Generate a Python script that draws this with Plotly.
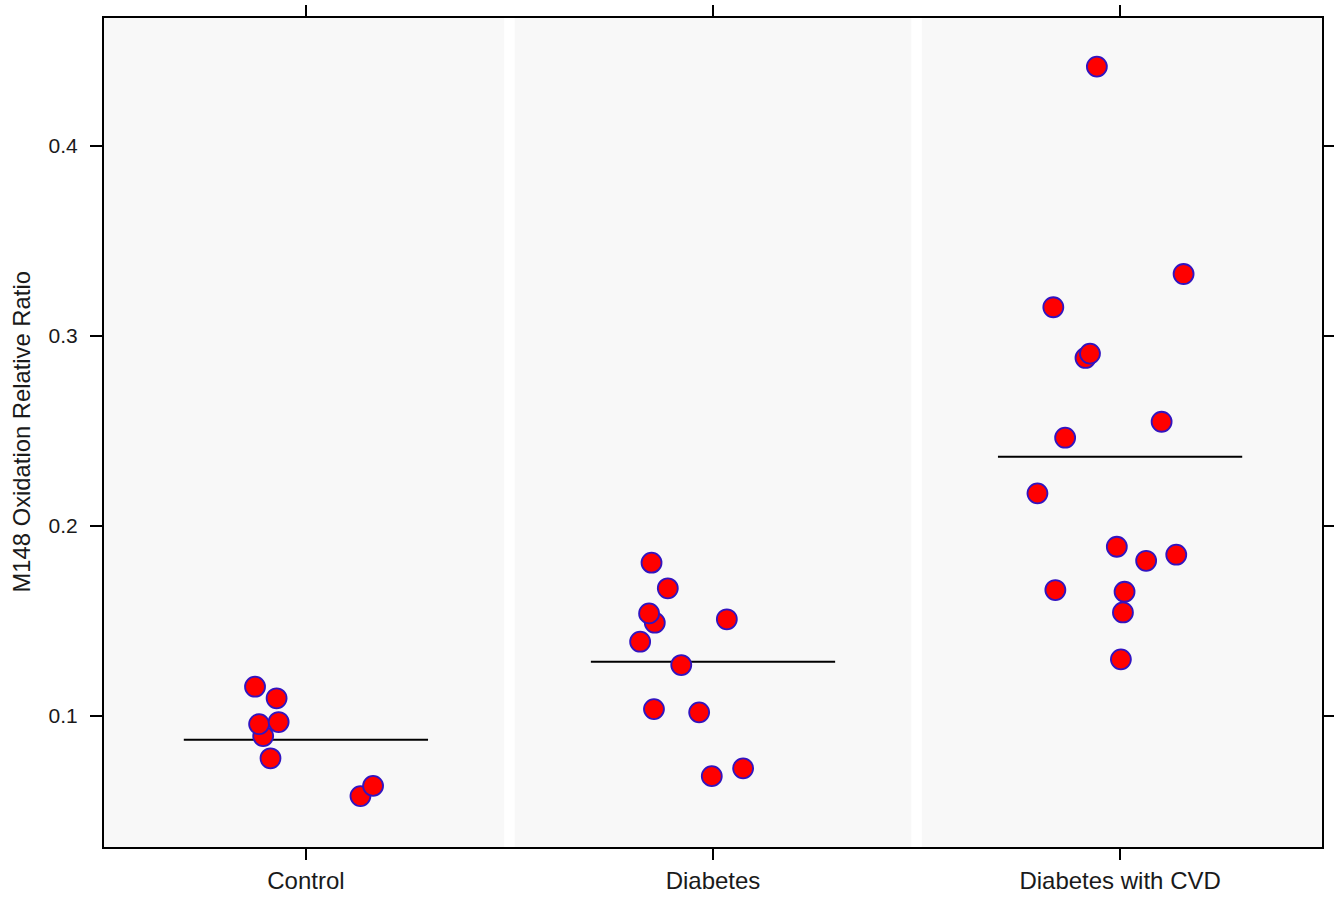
import plotly.graph_objects as go

categories = ["Control", "Diabetes", "Diabetes with CVD"]

# Values (y) and horizontal jitter offsets (x, in category units)
control_y = [0.0893, 0.1153, 0.1092, 0.0956, 0.0967, 0.0776, 0.0577, 0.0631]
control_dx = [-0.105, -0.125, -0.072, -0.115, -0.067, -0.087, 0.134, 0.165]

diabetes_y = [0.1806, 0.1671, 0.1490, 0.1539, 0.1390, 0.1508, 0.1267, 0.1035, 0.1018, 0.0682, 0.0723]
diabetes_dx = [-0.151, -0.111, -0.143, -0.157, -0.179, 0.034, -0.078, -0.145, -0.034, -0.003, 0.074]

cvd_y = [0.4418, 0.3326, 0.3151, 0.2884, 0.2907, 0.2464, 0.2548, 0.2171, 0.1890, 0.1816,
         0.1848, 0.1662, 0.1653, 0.1544, 0.1297]
cvd_dx = [-0.057, 0.156, -0.164, -0.085, -0.074, -0.135, 0.102, -0.203, -0.008, 0.064,
          0.138, -0.159, 0.011, 0.007, 0.002]

group_means = [0.0874, 0.1284, 0.2364]

y_ticks = [0.1, 0.2, 0.3, 0.4]
y_ticktext = ["0.1", "0.2", "0.3", "0.4"]
y_title = "M148 Oxidation Relative Ratio"

groups_y = [control_y, diabetes_y, cvd_y]
groups_dx = [control_dx, diabetes_dx, cvd_dx]

X_RANGE = [-0.496, 2.496]
Y_RANGE = [0.0309, 0.4674]

W, H = 1334, 899
ML, MR, MT, MB = 104, 12, 18, 52
FONT = "Liberation Sans, Arial"

fig = go.Figure()

# grey background bands per group
band_edges = [(X_RANGE[0], 0.487), (0.513, 1.487), (1.513, X_RANGE[1])]
for x0, x1 in band_edges:
    fig.add_shape(type="rect", xref="x", yref="y", x0=x0, x1=x1, y0=Y_RANGE[0], y1=Y_RANGE[1],
                  fillcolor="#f8f8f8", line=dict(width=0), layer="below")

# mean lines
for i, m in enumerate(group_means):
    fig.add_trace(go.Scatter(x=[i - 0.3, i + 0.3], y=[m, m], mode="lines",
                             line=dict(color="black", width=2), showlegend=False,
                             hoverinfo="skip"))

# points
for i, (ys, dxs) in enumerate(zip(groups_y, groups_dx)):
    fig.add_trace(go.Scatter(
        x=[i + d for d in dxs], y=ys, mode="markers",
        marker=dict(size=20, color="#ff0000", line=dict(color="#3214c0", width=1.8)),
        showlegend=False, name=categories[i]))

fig.update_xaxes(
    range=X_RANGE, tickmode="array", tickvals=[0, 1, 2], ticktext=categories,
    showline=True, linecolor="black", linewidth=2, mirror="ticks",
    ticks="outside", ticklen=11, tickwidth=2, tickcolor="black",
    showgrid=False, zeroline=False, automargin=False,
    tickfont=dict(family=FONT, size=24, color="#1a1a1a"),
)
fig.update_yaxes(
    range=Y_RANGE, tickmode="array", tickvals=y_ticks, ticktext=y_ticktext,
    showline=True, linecolor="black", linewidth=2, mirror="ticks",
    ticks="outside", ticklen=12, tickwidth=2, tickcolor="black",
    showgrid=False, zeroline=False, automargin=False, ticklabelstandoff=8,
    tickfont=dict(family=FONT, size=21, color="#1a1a1a"),
)

plot_w = W - ML - MR
fig.add_annotation(
    text=y_title, textangle=-90, showarrow=False,
    xref="paper", yref="paper", x=-(ML - 21) / plot_w, y=0.5,
    xanchor="center", yanchor="middle",
    font=dict(family=FONT, size=23.8, color="#1a1a1a"),
)

fig.update_layout(
    width=W, height=H,
    margin=dict(l=ML, r=MR, t=MT, b=MB, autoexpand=False),
    plot_bgcolor="white", paper_bgcolor="white",
)

fig.write_html(
    "out.html",
    config={"displayModeBar": False},
    post_script="document.body.style.margin='0px';document.body.style.overflow='hidden';",
)
